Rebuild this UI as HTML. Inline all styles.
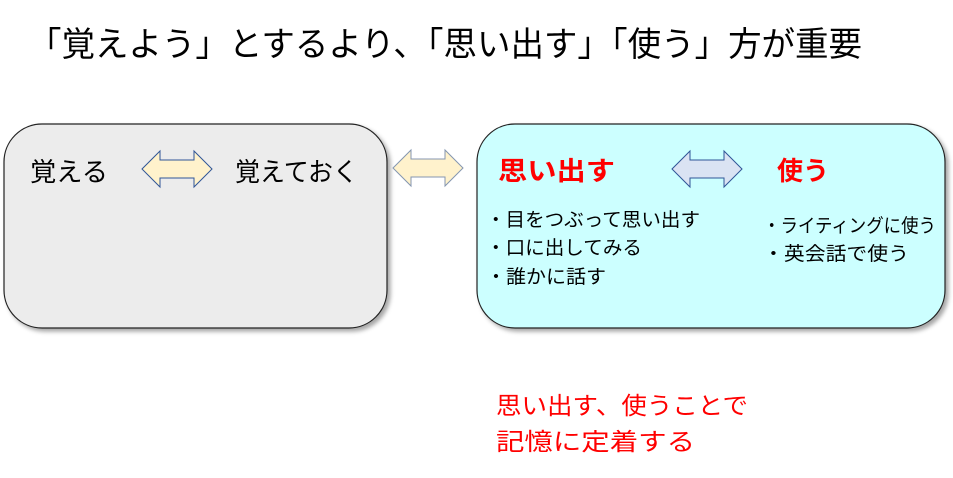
<!DOCTYPE html>
<html><head><meta charset="utf-8"><style>
body{margin:0;background:#fff;}
svg{display:block;font-family:"Liberation Sans","Noto Sans CJK JP",sans-serif;}
</style></head><body>
<svg width="953" height="478" viewBox="0 0 953 478" xmlns="http://www.w3.org/2000/svg">
<defs><filter id="sh" x="-5%" y="-5%" width="115%" height="115%"><feDropShadow dx="3" dy="3" stdDeviation="2" flood-color="#000" flood-opacity="0.35"/></filter></defs>
<text x="28" y="56" font-size="34" fill="#000" textLength="834" lengthAdjust="spacingAndGlyphs">「覚えよう」とするより、「思い出す」「使う」方が重要</text>
<rect x="4" y="124" width="383" height="204" rx="38" fill="#ececec" stroke="#222" stroke-width="1.2" filter="url(#sh)"/>
<rect x="477" y="124" width="468" height="204" rx="38" fill="#ccffff" stroke="#222" stroke-width="1.2" filter="url(#sh)"/>
<polygon points="142,169 160,151 160,160 194,160 194,151 212,169 194,187 194,178 160,178 160,187" fill="#fff2cc" stroke="#2f5597" stroke-width="1"/>
<polygon points="393,168 411,150 411,159 445,159 445,150 463,168 445,186 445,177 411,177 411,186" fill="#fff2cc" stroke="#8496b0" stroke-width="1"/>
<polygon points="672,169 690,151 690,160 724,160 724,151 742,169 724,187 724,178 690,178 690,187" fill="#dae3f3" stroke="#2f5597" stroke-width="1"/>
<text x="30" y="181" font-size="26" textLength="78" lengthAdjust="spacingAndGlyphs">覚える</text>
<text x="235" y="181" font-size="26" textLength="123" lengthAdjust="spacingAndGlyphs">覚えておく</text>
<text x="498" y="180" font-size="26" font-weight="bold" fill="#ff0000" textLength="117" lengthAdjust="spacingAndGlyphs">思い出す</text>
<text x="777" y="180" font-size="26" font-weight="bold" fill="#ff0000">使う</text>
<g font-size="19" fill="#000">
<text x="486" y="226" textLength="214" lengthAdjust="spacingAndGlyphs">・目をつぶって思い出す</text>
<text x="486" y="254" textLength="156" lengthAdjust="spacingAndGlyphs">・口に出してみる</text>
<text x="486" y="283" textLength="120" lengthAdjust="spacingAndGlyphs">・誰かに話す</text>
<text x="763" y="232" textLength="173" lengthAdjust="spacingAndGlyphs">・ライティングに使う</text>
<text x="763" y="260" textLength="146" lengthAdjust="spacingAndGlyphs">・英会話で使う</text>
</g>
<text x="496" y="414" font-size="24" fill="#ff0000" textLength="252" lengthAdjust="spacingAndGlyphs">思い出す、使うことで</text>
<text x="496" y="450" font-size="24" fill="#ff0000" textLength="199" lengthAdjust="spacingAndGlyphs">記憶に定着する</text>
</svg>
</body></html>
